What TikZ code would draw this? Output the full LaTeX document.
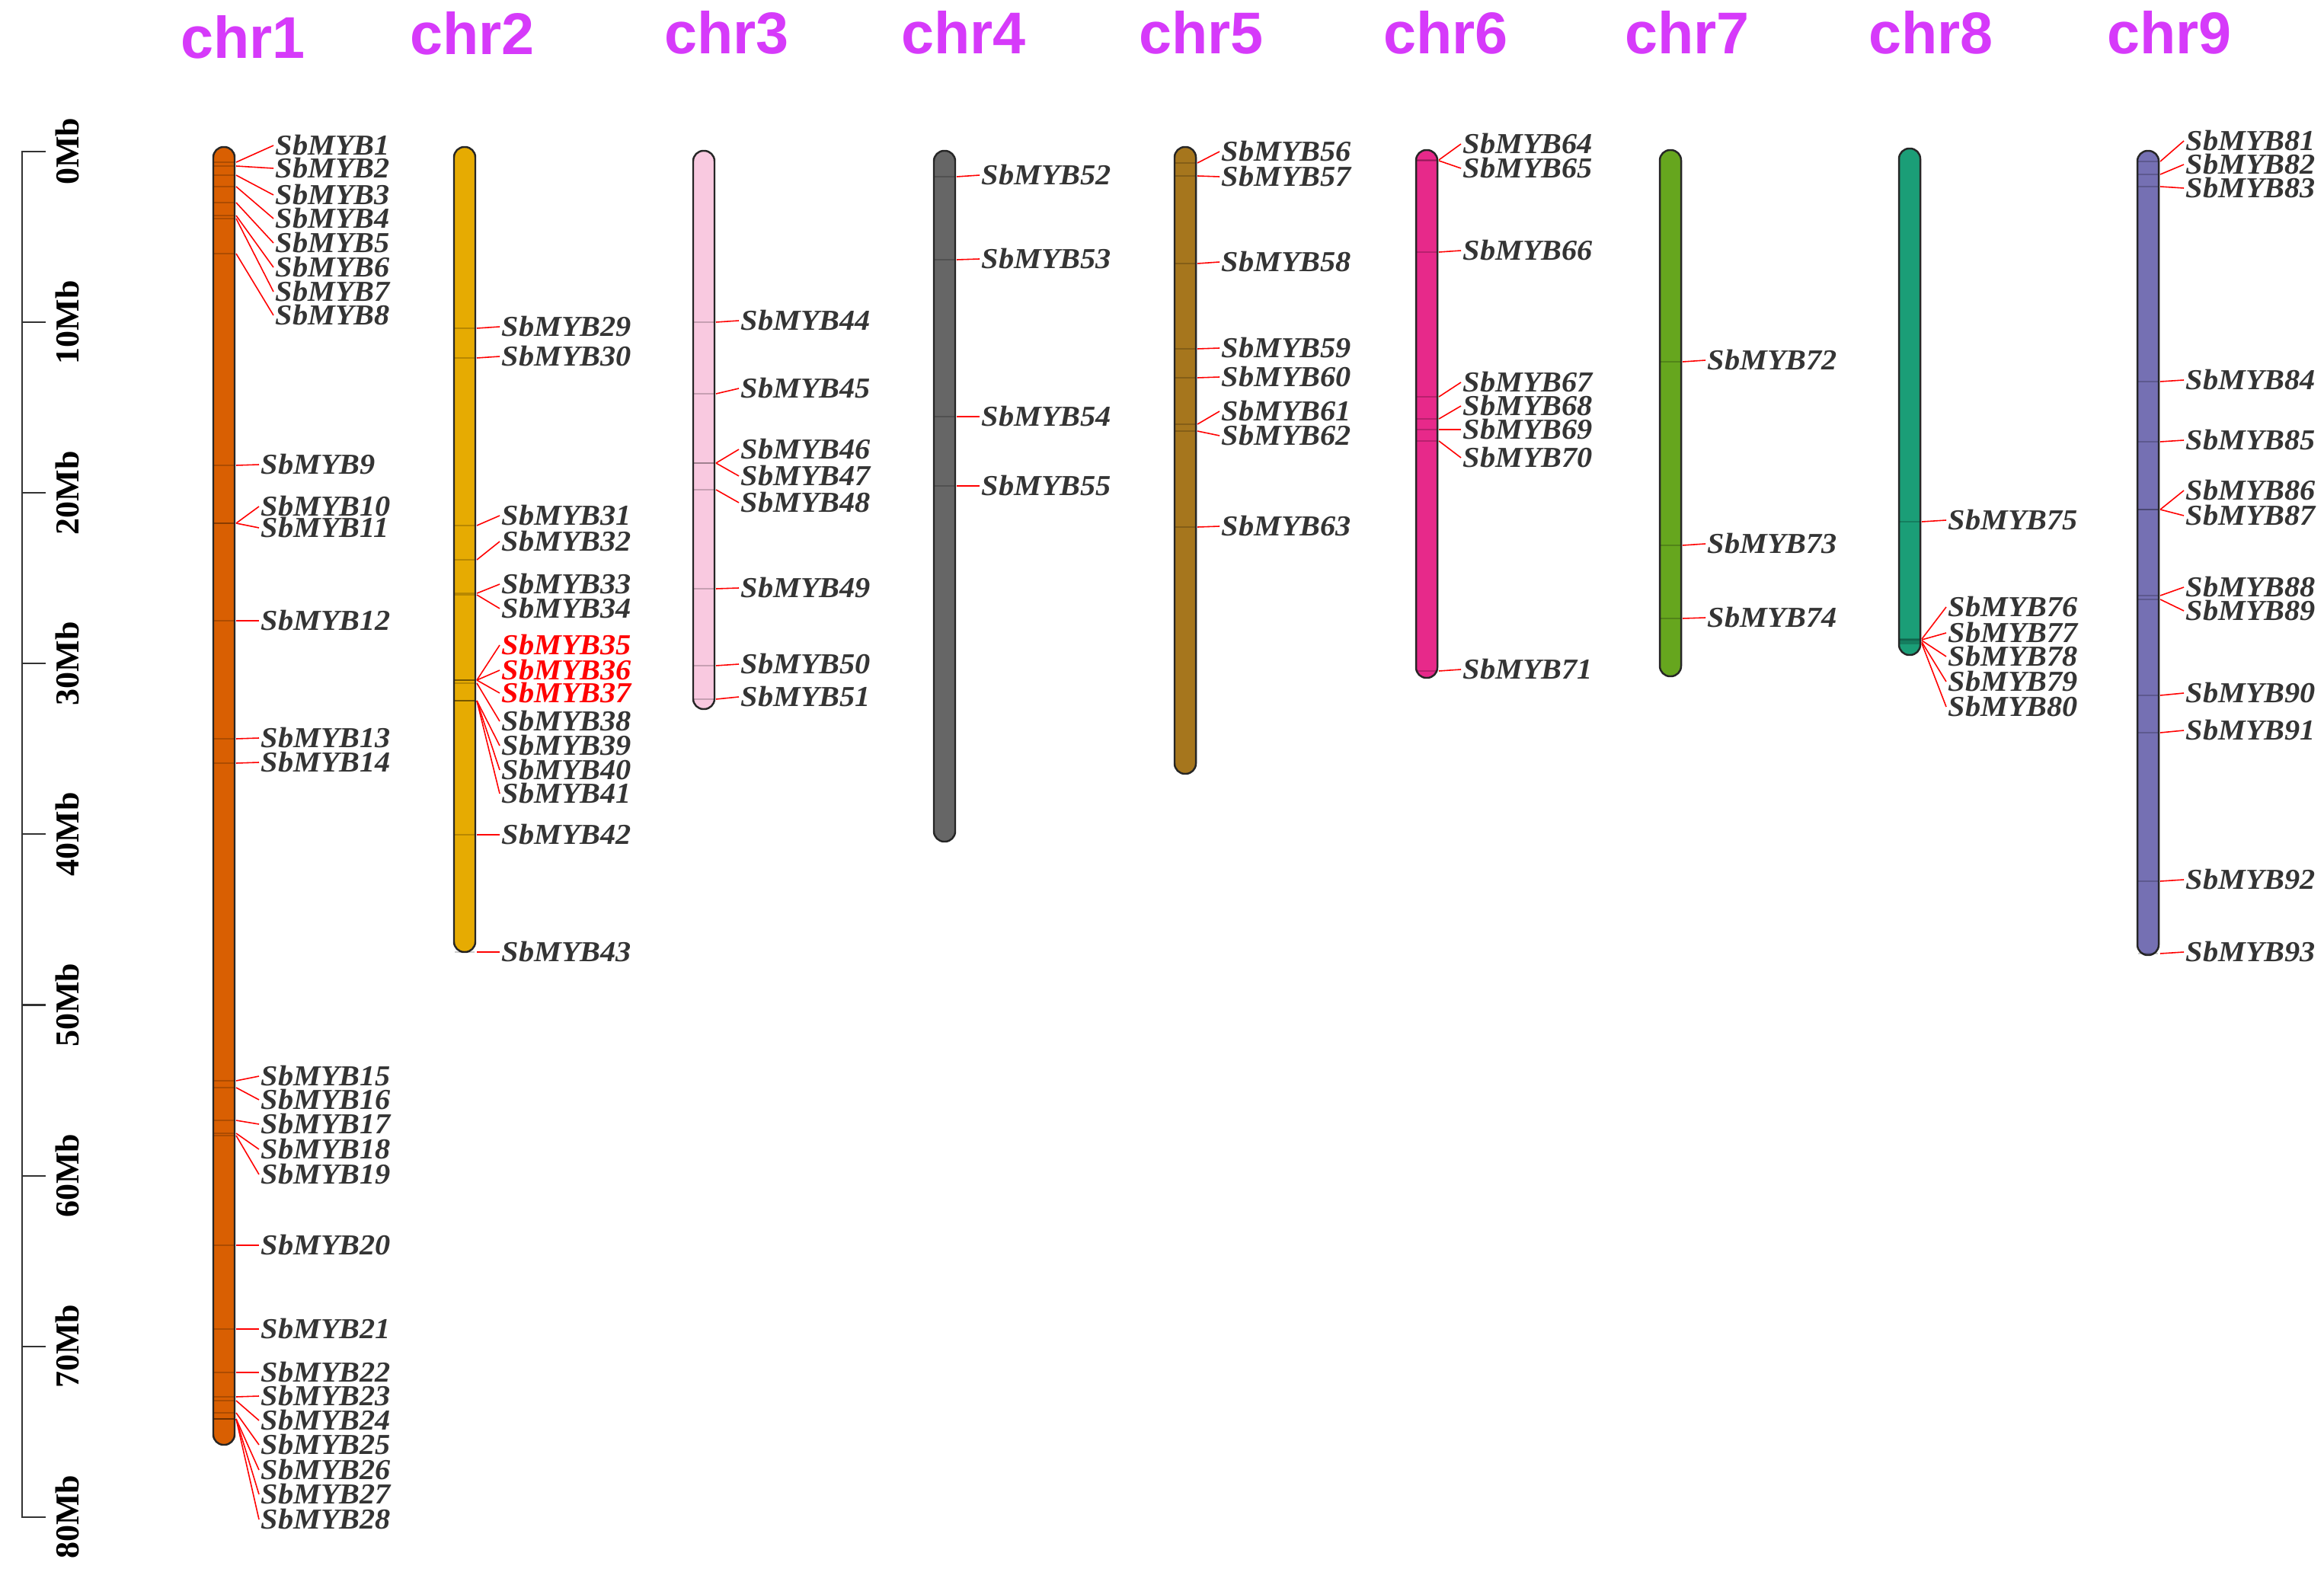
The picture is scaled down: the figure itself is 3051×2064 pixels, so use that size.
\documentclass[tikz,border=0pt]{standalone}
\usepackage{fontspec}
\setmainfont{Liberation Serif}
\newfontfamily\titlefont{Liberation Sans}
\newfontfamily\labfont[FakeStretch=1.06]{Liberation Serif}
\definecolor{titlemag}{RGB}{214,58,250}
\definecolor{labgray}{RGB}{52,52,52}
\definecolor{cA}{HTML}{D95F02}
\definecolor{cB}{HTML}{E6AB02}
\definecolor{cC}{HTML}{F9C9E0}
\definecolor{cD}{HTML}{666666}
\definecolor{cE}{HTML}{A6761D}
\definecolor{cF}{HTML}{E7298A}
\definecolor{cG}{HTML}{66A61E}
\definecolor{cH}{HTML}{1B9E77}
\definecolor{cI}{HTML}{7570B3}
\newcommand\chrbar[4]{% cx top bottom color
  \draw[chrbody, fill=#4] ({#1-14},#2) rectangle ({#1+14},#3);}
\newcommand\genes[4]{% cx, labelx, list, extra style
  \foreach \n/\gy/\ly in {#3} {
    \draw[band] ({#1-13},\gy) -- ({#1+13},\gy);
    \coordinate (p\n) at ({#1+16},\gy);
    \node[glabel,#4] (g\n) at (#2,\ly) {SbMYB\n};
    \draw[conn] (p\n) -- (g\n.west);
  }}
\begin{document}
\begin{tikzpicture}[x=0.01cm,y=-0.01cm,
  chrbody/.style={draw=black!85, line width=0.7pt, rounded corners=0.135cm},
  band/.style={draw=black, opacity=0.2, line width=0.35pt},
  conn/.style={draw=red, line width=0.45pt},
  glabel/.style={anchor=west, inner xsep=0.6pt, inner ysep=0pt, text height=0.25cm, text depth=0pt,
    font=\labfont\fontsize{10.8}{12}\selectfont\bfseries\itshape, text=labgray},
  redlab/.style={text=red},
  plain/.style={},
  chrtitle/.style={anchor=base, inner sep=0pt, font=\titlefont\fontsize{22}{24}\selectfont\bfseries, text=titlemag},
  scalelab/.style={rotate=90, inner sep=0pt, font=\fontsize{12.5}{13}\selectfont\bfseries},
  axisline/.style={draw=black!80, line width=0.6pt}]
\useasboundingbox (0,0) rectangle (3051,2064);
\fill[white] (0,0) rectangle (3051,2064);
% titles
\node[chrtitle] (t1) at (319,77) {chr1};
\node[chrtitle] (t2) at (620,72) {chr2};
\node[chrtitle] (t3) at (954,71) {chr3};
\node[chrtitle] (t4) at (1265,71) {chr4};
\node[chrtitle] (t5) at (1577,71) {chr5};
\node[chrtitle] (t6) at (1898,71) {chr6};
\node[chrtitle] (t7) at (2215,71) {chr7};
\node[chrtitle] (t8) at (2535,71) {chr8};
\node[chrtitle] (t9) at (2848,71) {chr9};
% scale
\draw[axisline] (60,199) -- (29,199) -- (29,1992) -- (60,1992);
\foreach \i in {1,...,7} \draw[axisline] (29,{199+224.1*\i}) -- (60,{199+224.1*\i});
\foreach \i/\t in {0/0Mb,1/10Mb,2/20Mb,3/30Mb,4/40Mb,5/50Mb,6/60Mb,7/70Mb,8/80Mb}
  \node[scalelab] (s\i) at (88,{199+224.1*\i}) {\t};
% chromosomes
\chrbar{294}{193}{1897}{cA}
\chrbar{610}{193}{1250}{cB}
\chrbar{924}{198}{931}{cC}
\chrbar{1240}{198}{1105}{cD}
\chrbar{1556}{193}{1016}{cE}
\chrbar{1873}{197}{890}{cF}
\chrbar{2193}{197}{888}{cG}
\chrbar{2507}{195}{860}{cH}
\chrbar{2820}{198}{1254}{cI}
% genes
\genes{294}{359}{1/213/191,2/218/221,3/230/256,4/245/287,5/266/319,6/283/351,7/287/383,8/333/414}{plain}
\genes{294}{340}{9/611/610,10/687/665,11/687/693,12/815/815,13/970/969,14/1002/1001,15/1419/1413,16/1428/1444,17/1471/1476,18/1488/1509,19/1491/1542,20/1635/1635,21/1745/1745,22/1802/1802,23/1834/1833,24/1839/1865,25/1855/1897,26/1863/1930,27/1863/1962,28/1863/1995}{plain}
\genes{610}{656}{29/431/429,30/470/468,31/690/677,32/735/711,33/779/767,34/781/799,38/897/947,39/920/979,40/920/1011,41/920/1042,42/1096/1096,43/1250/1250}{plain}
\genes{610}{656}{35/893/847,36/893/880,37/893/910}{redlab}
\genes{924}{970}{44/423/421,45/517/510,46/608/590,47/608/625,48/643/660,49/773/772,50/874/872,51/918/915}{plain}
\genes{1240}{1286}{52/232/230,53/341/340,54/547/547,55/638/638}{plain}
\genes{1556}{1601}{56/214/199,57/231/232,58/346/344,59/458/457,60/496/495,61/557/540,62/566/572,63/692/691}{plain}
\genes{1873}{1918}{64/210/189,65/211/221,66/331/329,67/521/502,68/550/533,69/564/564,70/579/601,71/881/879}{plain}
\genes{2193}{2239}{72/475/473,73/716/714,74/812/811}{plain}
\genes{2507}{2555}{75/685/683,76/839/797,77/840/831,78/841/862,79/843/895,80/845/928}{plain}
\genes{2820}{2867}{81/212/185,82/229/216,83/245/247,84/501/499,85/580/578,86/669/644,87/669/677,88/782/771,89/787/802,90/913/910,91/962/959,92/1157/1155,93/1252/1250}{plain}
\end{tikzpicture}
\end{document}
